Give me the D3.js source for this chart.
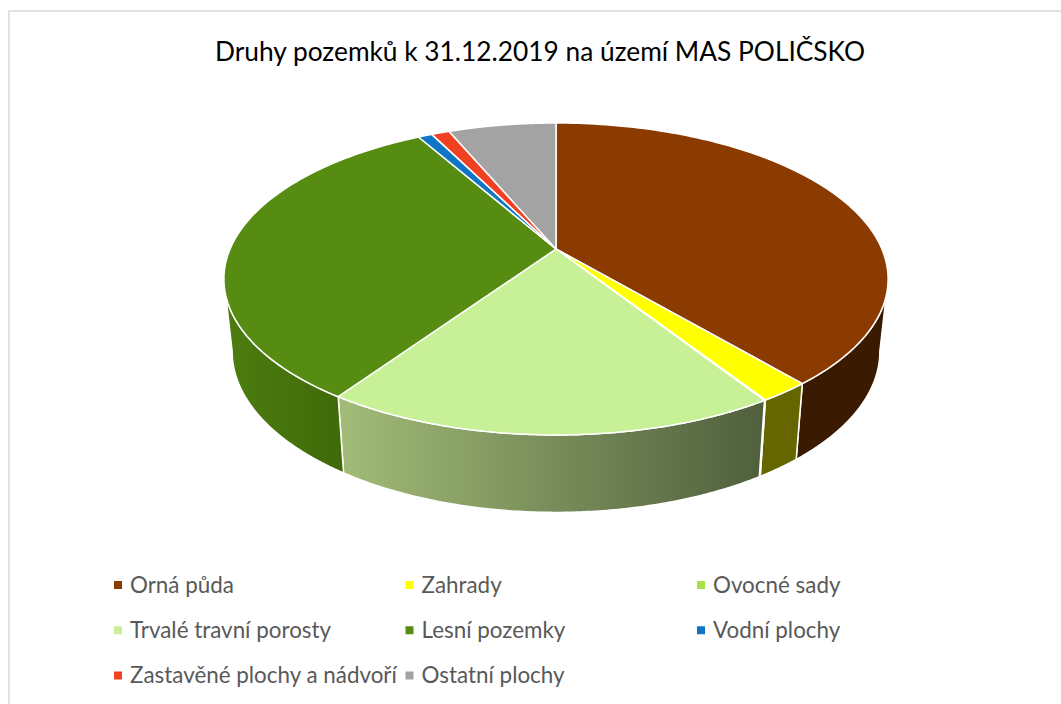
<!DOCTYPE html>
<html><head><meta charset="utf-8">
<script src="https://cdn.jsdelivr.net/npm/d3@7/dist/d3.min.js"></script>
<style>html,body{margin:0;padding:0;background:#fff}svg{display:block}</style>
</head><body><svg id="c" width="1061" height="704"></svg>
<script>
const title = "Druhy pozemků k 31.12.2019 na území MAS POLIČSKO";
const categories = ["Orná půda","Zahrady","Ovocné sady","Trvalé travní porosty","Lesní pozemky","Vodní plochy","Zastavěné plochy a nádvoří","Ostatní plochy"];
const shares = [38.85,2.1,0.05,18.5,32.3,0.83,1.05,6.32];
const topColors = ["#8B3A00","#FFFF00","#A5E34B","#C8F096","#578C12","#0F75C4","#F04123","#A3A3A3"];
const legendColors = ["#8B3A00","#FFFF00","#A5E34B","#C8F096","#578C12","#0F75C4","#F04123","#A3A3A3"];
const wallFrom = ["#3A1A00","#666600","#627F3A","#A2BC78","#4D7D10","#0F75C4","#F04123","#A3A3A3"];
const wallTo   = ["#3A1A00","#666600","#627F3A","#4F5F3C","#3F6A08","#0F75C4","#F04123","#A3A3A3"];

const svg = d3.select("#c");
const color = d3.scaleOrdinal(categories, topColors);
const legendColor = d3.scaleOrdinal(categories, legendColors);

// perspective projection of the two disc faces
const K = 0.1923;
const faceTop = {cx:556, cy:249, rx:325.9, ry:150.2};
const faceBottom = {cx:556, cy:320.5, rx:317.8, ry:155};
const project = (f, a) => {
  const u = Math.sin(a), v = Math.cos(a), w = 1 + K*v;
  return [f.cx + f.rx*u/w, f.cy - f.ry*v/w];
};
const pie = d3.pie().sort(null).value(d => d.v);
const slices = pie(categories.map((c,i)=>({c, v:shares[i], i})));
const arcPts = (f, a0, a1) => d3.range(0, 121).map(t => project(f, a0 + (a1-a0)*t/120));
const line = d3.line();

const defs = svg.append("defs");
// the wall is seen between the two points where the disc outline is widest
const visMin = Math.acos(-K), visMax = 2*Math.PI - visMin;

svg.append("rect").attr("x",9).attr("y",11).attr("width",1080).attr("height",720)
  .attr("fill","#fff").attr("stroke","#D9D9D9").attr("stroke-width",1.5);

svg.append("text").attr("x",540).attr("y",61).attr("text-anchor","middle")
  .attr("font-family","Lato, 'Open Sans', sans-serif").attr("font-size",26.3).attr("fill","#000").text(title);

// walls
slices.forEach((s,k) => {
  const a0 = Math.max(s.startAngle, visMin), a1 = Math.min(s.endAngle, visMax);
  if (a1 <= a0) return;
  const t = arcPts(faceTop,a0,a1), b = arcPts(faceBottom,a0,a1);
  const id = "w"+k;
  const xs = t.concat(b).map(p=>p[0]);
  const lg = defs.append("linearGradient").attr("id",id).attr("gradientUnits","userSpaceOnUse")
    .attr("x1",d3.min(xs)).attr("x2",d3.max(xs)).attr("y1",0).attr("y2",0);
  lg.append("stop").attr("offset",0).attr("stop-color",wallFrom[k]);
  lg.append("stop").attr("offset",1).attr("stop-color",wallTo[k]);
  svg.append("path").attr("d", line(t.concat(b.reverse()))+"Z")
    .attr("fill",`url(#${id})`).attr("stroke","#fff").attr("stroke-width",1.5).attr("stroke-linejoin","round");
});

// top face
slices.forEach(s => {
  const pts = [[faceTop.cx, faceTop.cy]].concat(arcPts(faceTop,s.startAngle,s.endAngle));
  svg.append("path").attr("d", line(pts)+"Z")
    .attr("fill",color(s.data.c)).attr("stroke","#fff").attr("stroke-width",1.5).attr("stroke-linejoin","round");
});

// legend
const colX = d3.scalePoint().domain([0,1,2]).range([114,697]);
const rowY = d3.scalePoint().domain([0,1,2]).range([585,675.5]);
categories.forEach((c,i) => {
  const g = svg.append("g").attr("transform",`translate(${colX(i%3)},${rowY(Math.floor(i/3))})`);
  g.append("rect").attr("x",0).attr("y",-4).attr("width",8).attr("height",8).attr("fill",legendColor(c));
  g.append("text").attr("x",16).attr("y",7.5).attr("font-family","Lato, 'Open Sans', sans-serif")
    .attr("font-size",22.4).attr("fill","#595959").text(c);
});
</script></body></html>
